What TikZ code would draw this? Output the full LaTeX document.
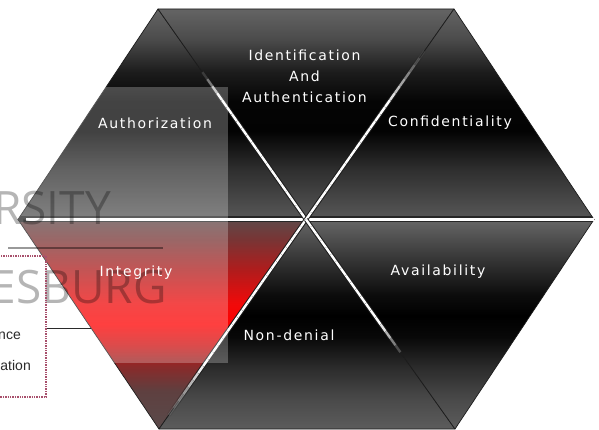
\documentclass[tikz,border=0pt]{standalone}
\usepackage{fontspec}
\setmainfont{DejaVu Sans}
\newfontfamily\pillarfont[LetterSpace=12]{DejaVu Sans}
\newfontfamily\crestfont{Open Sans}
\newfontfamily\notefont{Liberation Sans}
\usetikzlibrary{calc}

\definecolor{hexedge}{HTML}{1C1C1C}
\definecolor{seamdark}{HTML}{262626}
\definecolor{notered}{HTML}{A8506C}
\definecolor{noteink}{HTML}{2A2A2A}

% grey ramps of the two halves
\definecolor{upA}{HTML}{646464}
\definecolor{upB}{HTML}{4C4C4C}
\definecolor{upC}{HTML}{1C1C1C}
\definecolor{upD}{HTML}{050505}
\definecolor{upE}{HTML}{030303}
\definecolor{upF}{HTML}{2E2E2E}
\definecolor{upG}{HTML}{585858}
\definecolor{loA}{HTML}{666666}
\definecolor{loB}{HTML}{333333}
\definecolor{loC}{HTML}{0C0C0C}
\definecolor{loD}{HTML}{000000}
\definecolor{loE}{HTML}{080808}
\definecolor{loF}{HTML}{2A2A2A}
\definecolor{loG}{HTML}{4A4A4A}
\definecolor{loH}{HTML}{5C5C5C}
% red ramp of the integrity wedge
\definecolor{rdA}{HTML}{604848}
\definecolor{rdB}{HTML}{7A3434}
\definecolor{rdC}{HTML}{B01C1C}
\definecolor{rdD}{HTML}{F00A0A}
\definecolor{rdE}{HTML}{FF0000}
\definecolor{rdF}{HTML}{D01010}
\definecolor{rdG}{HTML}{8A2A2A}
\definecolor{rdH}{HTML}{5E4040}
\definecolor{rdI}{HTML}{5A4A4A}

% 25bp is the bottom of the filled path, 75bp its top
\pgfdeclareverticalshading{upperhalf}{100bp}{%
  color(0bp)=(upA); color(25bp)=(upA); color(32bp)=(upB);
  color(40bp)=(upC); color(47bp)=(upD); color(54bp)=(upE);
  color(63bp)=(upF); color(75bp)=(upG); color(100bp)=(upG)}
\pgfdeclareverticalshading{lowerhalf}{100bp}{%
  color(0bp)=(loA); color(25bp)=(loA); color(35bp)=(loB);
  color(43bp)=(loC); color(48bp)=(loD); color(53bp)=(loE);
  color(60bp)=(loF); color(68bp)=(loG); color(75bp)=(loH); color(100bp)=(loH)}
\pgfdeclareverticalshading{redhalf}{100bp}{%
  color(0bp)=(rdA); color(25bp)=(rdA); color(30bp)=(rdB);
  color(37bp)=(rdC); color(45bp)=(rdD); color(50bp)=(rdE);
  color(55bp)=(rdF); color(60bp)=(rdG); color(66bp)=(rdH);
  color(75bp)=(rdI); color(100bp)=(rdI)}

% glossy seam between two wedges: #1 outer corner, #2 centre,
% #3 where the shine starts, #4 length of its ramp (fractions of the seam)
\newcommand\glint[4]{%
  \foreach \k in {0,...,29}{%
    \pgfmathsetmacro\ta{\k/30}%
    \pgfmathsetmacro\tb{(\k+1)/30}%
    \pgfmathsetmacro\op{min(1,max(0,((\k+0.5)/30-#3)/#4))}%
    \draw[line width=4.4pt, draw=hexedge, draw opacity=\op]
      ($(#1)!\ta!(#2)$) -- ($(#1)!\tb!(#2)$);
    \draw[line width=2.4pt, draw=white, draw opacity=\op]
      ($(#1)!\ta!(#2)$) -- ($(#1)!\tb!(#2)$);
  }}

\begin{document}
\begin{tikzpicture}[x=1pt,y=-1pt,
  wedge/.style={draw=hexedge, line width=0.7pt, line join=round,
    shading angle=180},
  pillar/.style={text=white, font=\pillarfont\fontsize{14}{21}\selectfont,
    inner sep=0pt, align=center},
  crest/.style={text=black, text opacity=0.29,
    font=\crestfont\fontsize{46}{46}\selectfont, inner sep=0pt},
  note/.style={text=noteink, font=\notefont\fontsize{14}{16}\selectfont, inner sep=0pt},
  notebox/.style={draw=notered, line width=1.3pt, dash pattern=on 1.4pt off 1pt,
    inner sep=0pt}
]
\useasboundingbox (0,0) rectangle (599,430);
\clip (0,0) rectangle (599,430);
\fill[white] (0,0) rectangle (599,430);

% hexagon corners and centre
\coordinate (TL) at (158,9);
\coordinate (TR) at (454,9);
\coordinate (R)  at (594,219.5);
\coordinate (BR) at (455,429);
\coordinate (BL) at (159,429);
\coordinate (L)  at (18,219.5);
\coordinate (C)  at (306,219.5);

% the six wedges
\shadedraw[wedge, shading=upperhalf] (TL) -- (L) -- (C) -- cycle;
\shadedraw[wedge, shading=upperhalf] (TL) -- (TR) -- (C) -- cycle;
\shadedraw[wedge, shading=upperhalf] (TR) -- (R) -- (C) -- cycle;
\shadedraw[wedge, shading=redhalf]   (L) -- (C) -- (BL) -- cycle;
\shadedraw[wedge, shading=lowerhalf] (C) -- (BL) -- (BR) -- cycle;
\shadedraw[wedge, shading=lowerhalf] (C) -- (R) -- (BR) -- cycle;

% horizontal seam
\begin{scope}
  \clip (TL) -- (TR) -- (R) -- (BR) -- (BL) -- (L) -- cycle;
  \fill[seamdark] (0,216.5) rectangle (599,222.5);
\end{scope}
\draw[white, line width=2.3pt] (26,219.5) -- (R);

% diagonal seams
\glint{TL}{C}{0.30}{0.12}
\glint{TR}{C}{0.20}{0.25}
\glint{BL}{C}{0.05}{0.25}
\glint{BR}{C}{0.35}{0.15}

% translucent panel
\fill[white, opacity=0.25] (0,87) rectangle (228,363);

% crest lettering
\node[crest, anchor=base east] (crestA) at (111,225) {RSITY};
\draw[black, opacity=0.4, line width=2.6pt] (8,248) -- (163,248);
\node[crest, anchor=base east] (crestB) at (167,303) {ESBURG};

% wedge labels
\node[pillar] (authz) at (155,123) {Authorization};
\node[pillar] (ident) at (304.5,76) {Identification\\And\\Authentication};
\node[pillar] (conf)  at (450,123) {Confidentiality};
\node[pillar] (integ) at (136,273) {Integrity};
\node[pillar] (avail) at (438,272) {Availability};
\node[pillar] (nondn) at (289,335) {Non-denial};

% side note
\node[notebox, minimum width=60pt, minimum height=141pt] (notes) at (16,326.5) {};
\node[note, anchor=base east] (noteA) at (21,339) {nce};
\node[note, anchor=base east] (noteB) at (31,370) {ation};
\coordinate (integedge) at ($(L)!0.518!(BL)$);
\draw[noteink, line width=0.8pt] (notes.east |- integedge) -- (integedge);
\end{tikzpicture}
\end{document}
